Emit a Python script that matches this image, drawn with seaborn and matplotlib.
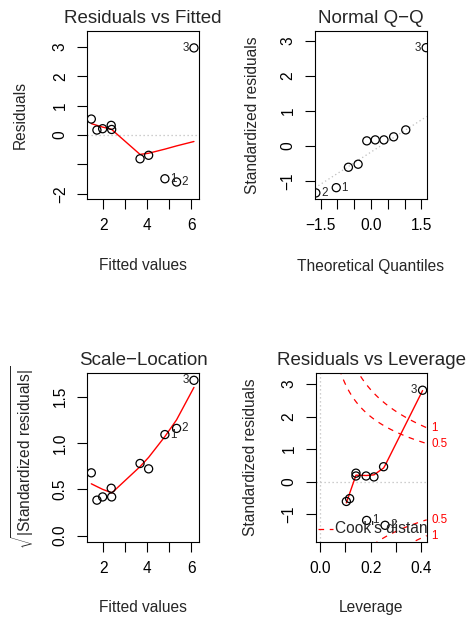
import numpy as np
import pandas as pd
import matplotlib
matplotlib.use("Agg")
import matplotlib.pyplot as plt
import matplotlib.transforms as mtransforms
import seaborn as sns

# ---------------- data ----------------
obs_id = [1, 2, 3, 4, 5, 6, 7, 8, 9, 10]
fitted = [4.80, 5.33, 6.12, 1.455, 1.71, 1.97, 2.36, 2.38, 3.67, 4.06]
residuals = [-1.49, -1.60, 2.97, 0.545, 0.17, 0.216, 0.33, 0.19, -0.81, -0.69]
std_resid = [-1.19, -1.34, 2.81, 0.46, 0.147, 0.175, 0.262, 0.175, -0.607, -0.52]
leverage = [0.184, 0.257, 0.405, 0.251, 0.213, 0.182, 0.142, 0.142, 0.104, 0.117]
theoretical_q = [-1.645, -1.036, -0.674, -0.385, -0.126, 0.126, 0.385, 0.674, 1.036, 1.645]
# smoother (red line) values at the sorted x values
rvf_smooth = [0.39, 0.33, 0.27, 0.20, 0.19, -0.66, -0.62, -0.48, -0.37, -0.22]
sl_smooth = [0.56, 0.53, 0.50, 0.465, 0.46, 0.745, 0.845, 1.07, 1.25, 1.60]
rvl_smooth = [-0.65, -0.36, 0.20, 0.20, 0.19, 0.19, 0.21, 0.42, 0.50, 2.80]
cook_levels = [0.5, 1.0]
n_params = 2
flagged = [1, 2, 3]

titles = ["Residuals vs Fitted", "Normal Q\u2212Q", "Scale\u2212Location", "Residuals vs Leverage"]
xlabels = ["Fitted values", "Theoretical Quantiles", "Fitted values", "Leverage"]
ylabels = ["Residuals", "Standardized residuals",
           r"$\sqrt{|\mathrm{Standardized\ residuals}|}$", "Standardized residuals"]

# ---------------- style ----------------
sns.set_style("ticks")
plt.rcParams["font.family"] = ["Liberation Sans", "DejaVu Sans"]
plt.rcParams["mathtext.fontset"] = "custom"
plt.rcParams["mathtext.rm"] = "Liberation Sans"
plt.rcParams["mathtext.it"] = "Liberation Sans:italic"
plt.rcParams["mathtext.bf"] = "Liberation Sans:bold"
plt.rcParams["axes.unicode_minus"] = True

FS = 11.2
TFS = 13.5
IDFS = 8.4

df = pd.DataFrame({"id": obs_id, "fitted": fitted, "resid": residuals,
                   "std": std_resid, "lev": leverage})
df["sqrt_abs"] = np.sqrt(np.abs(df["std"]))

fig = plt.figure(figsize=(4.68, 6.22), dpi=100)
W, H = 468, 622
boxes = [(87.3, 198.7, 31, 199.3), (315, 426.7, 31, 199),
         (87.3, 198.7, 373.3, 542), (316, 426.7, 373.3, 542)]
axes = []
for (l, r, t, b) in boxes:
    axes.append(fig.add_axes([l / W, 1 - b / H, (r - l) / W, (b - t) / H]))

ylab_x = [-0.598, -0.561, -0.574, -0.596]
xlab_y = [-0.396, -0.403, -0.391, -0.391]


def style_axis(ax, i, xticks, xtl, yticks, ytl, xlim, ylim):
    ax.set_xlim(*xlim)
    ax.set_ylim(*ylim)
    ax.set_xticks(xticks)
    ax.set_xticklabels(xtl)
    ax.set_yticks(yticks)
    ax.set_yticklabels(ytl, rotation=90, va="center")
    ax.tick_params(axis="both", direction="out", length=7, width=0.8,
                   labelsize=FS, color="black", labelcolor="black")
    ax.tick_params(axis="x", pad=6.5)
    ax.tick_params(axis="y", pad=7)
    for sp in ax.spines.values():
        sp.set_visible(True)
        sp.set_color("black")
        sp.set_linewidth(0.8)
    ax.set_title(titles[i], fontsize=TFS, pad=5.8)
    ax.set_xlabel(xlabels[i], fontsize=FS)
    ax.set_ylabel(ylabels[i], fontsize=FS)
    ax.xaxis.label.set_va("center")
    ax.yaxis.label.set_va("center")
    ax.xaxis.set_label_coords(0.5, xlab_y[i])
    ax.yaxis.set_label_coords(ylab_x[i], 0.5)


def points(ax, x, y):
    sns.scatterplot(x=x, y=y, ax=ax, s=34, marker="o", facecolor="none",
                    edgecolor="black", linewidth=0.9, legend=False, zorder=3)


def label_ids(ax, xs, ys, ids):
    xs = np.asarray(xs, float)
    mid = (xs.min() + xs.max()) / 2
    for x, y, k in zip(xs, ys, ids):
        right = x <= mid
        ax.annotate(str(k), (x, y), xytext=(3.8 if right else -3.8, 0),
                    textcoords="offset points", ha="left" if right else "right",
                    va="center", fontsize=IDFS, annotation_clip=False)


def smooth(ax, x, y):
    sns.lineplot(x=x, y=y, ax=ax, sort=False, estimator=None, color="red",
                 linewidth=1.0, legend=False, zorder=2)


flag = df[df["id"].isin(flagged)]

# ---- Panel 1: Residuals vs Fitted
ax = axes[0]
ax.axhline(0, color="#bebebe", lw=0.9, ls=(0, (1, 2.2)), zorder=1)
points(ax, df["fitted"], df["resid"])
smooth(ax, np.sort(df["fitted"].values), rvf_smooth)
label_ids(ax, flag["fitted"], flag["resid"], flag["id"])
style_axis(ax, 0, [2, 3, 4, 5, 6], ["2", "", "4", "", "6"],
           [-2, -1, 0, 1, 2, 3], ["\u22122", "", "0", "1", "2", "3"],
           (1.273, 6.336), (-2.19, 3.546))

# ---- Panel 2: Normal Q-Q
ax = axes[1]
qq = df.sort_values("std").reset_index(drop=True)
qq["tq"] = theoretical_q
q1, q3 = np.percentile(qq["std"], [25, 75])
z75 = 0.6744898
slope = (q3 - q1) / (2 * z75)
intercept = (q1 + q3) / 2
ax.axline((0, intercept), slope=slope, color="#bebebe", lw=0.9, ls=(0, (1, 2.2)), zorder=1)
points(ax, qq["tq"], qq["std"])
qf = qq[qq["id"].isin(flagged)]
label_ids(ax, qf["tq"], qf["std"], qf["id"])
style_axis(ax, 1, [-1.5, -1.0, -0.5, 0.0, 0.5, 1.0, 1.5],
           ["\u22121.5", "", "", "0.0", "", "", "1.5"],
           [-1, 0, 1, 2, 3], ["\u22121", "0", "1", "2", "3"],
           (-1.67, 1.66), (-1.514, 3.286))

# ---- Panel 3: Scale-Location
ax = axes[2]
points(ax, df["fitted"], df["sqrt_abs"])
smooth(ax, np.sort(df["fitted"].values), sl_smooth)
label_ids(ax, flag["fitted"], flag["sqrt_abs"], flag["id"])
style_axis(ax, 2, [2, 3, 4, 5, 6], ["2", "", "4", "", "6"],
           [0.0, 0.5, 1.0, 1.5], ["0.0", "0.5", "1.0", "1.5"],
           (1.273, 6.336), (-0.068, 1.752))

# ---- Panel 4: Residuals vs Leverage
ax = axes[3]
xlim4 = (-0.0158, 0.4213)
ax.axhline(0, color="#bebebe", lw=0.9, ls=(0, (1, 2.2)), zorder=1)
ax.axvline(0, color="#bebebe", lw=0.9, ls=(0, (1, 2.2)), zorder=1)
points(ax, df["lev"], df["std"])
smooth(ax, np.sort(df["lev"].values), rvl_smooth)
label_ids(ax, flag["lev"], flag["std"], flag["id"])
hh = np.linspace(min(df["lev"].min(), df["lev"].max() / 100), xlim4[1], 101)
trans = mtransforms.blended_transform_factory(ax.transAxes, ax.transData)
for lev in cook_levels:
    cl = np.sqrt(lev * n_params * (1 - hh) / hh)
    for sgn in (1, -1):
        ax.plot(hh, sgn * cl, color="red", lw=0.9, ls=(0, (4.5, 4.5)), zorder=1)
    yl = np.sqrt(lev * n_params * (1 - xlim4[1]) / xlim4[1])
    txt = "1" if lev == 1.0 else "0.5"
    for sgn in (1, -1):
        ax.text(1.04, sgn * yl, txt, transform=trans, color="red", fontsize=IDFS,
                ha="left", va="center", clip_on=False)
ax.plot([0.018, 0.15], [0.079, 0.079], transform=ax.transAxes, color="red",
        lw=0.9, ls=(0, (4.5, 4.5)), clip_on=True)
ax.text(0.172, 0.079, "Cook's distance", transform=ax.transAxes, fontsize=FS,
        ha="left", va="center", clip_on=True)
style_axis(ax, 3, [0.0, 0.1, 0.2, 0.3, 0.4], ["0.0", "", "0.2", "", "0.4"],
           [-1, 0, 1, 2, 3], ["\u22121", "0", "1", "2", "3"],
           xlim4, (-1.853, 3.33))

fig.savefig("out.png", dpi=100, facecolor="white")
